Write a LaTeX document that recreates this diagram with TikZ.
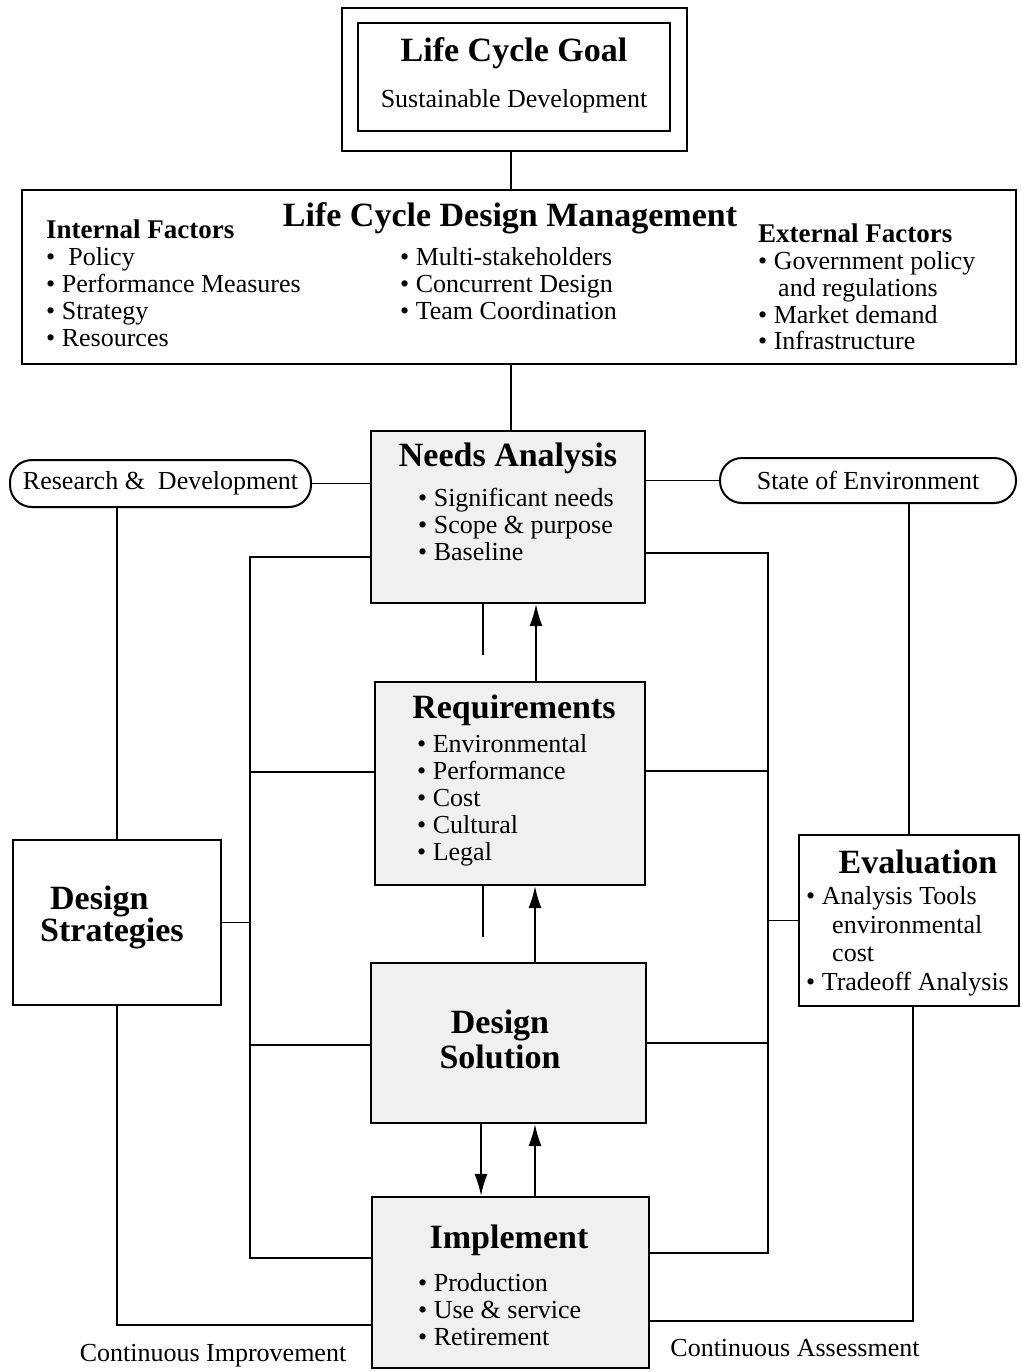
\documentclass[tikz,border=0pt]{standalone}
\usepackage{fontspec}
\setmainfont{Liberation Serif}
\usetikzlibrary{positioning,calc,arrows.meta}

\begin{document}
\begin{tikzpicture}[x=1pt,y=-1pt,
    box/.style={draw, line width=2.2pt, inner sep=0pt},
    shaded/.style={box, fill=black!6},
    pill/.style={draw, line width=2pt, rounded corners=22pt, inner sep=0pt,
        font=\fontsize{26}{27}\selectfont},
    item/.style={anchor=mid west, inner sep=0pt, yshift=-6.5pt, font=\fontsize{26}{27}\selectfont},
    plain/.style={anchor=mid, inner sep=0pt, yshift=-6.5pt, font=\fontsize{26}{27}\selectfont},
    head/.style={anchor=mid, inner sep=0pt, yshift=-9pt, font=\fontsize{34}{36}\selectfont\bfseries},
    subhead/.style={anchor=mid west, inner sep=0pt, yshift=-7pt, font=\fontsize{27}{28}\selectfont\bfseries},
    link/.style={line width=1.8pt},
    arr/.style={link, -{Latex[length=22pt,width=13pt]}}]

    \useasboundingbox (0,0) rectangle (1020,1372);

    % Life cycle goal (double frame)
    \node[box, minimum width=345pt, minimum height=143pt] (goal) at (514.5,79.5) {};
    \node[box, line width=2pt, minimum width=312pt, minimum height=108pt] (goalin) at (514,77) {};
    \node[head] (goalt) at (514,50) {Life Cycle Goal};
    \node[plain] (goals) at (514,99) {Sustainable Development};

    % Design management with factors
    \node[box, minimum width=994pt, minimum height=174pt] (lcdm) at (519,277) {};
    \node[head] (lcdmt) at (510,215) {Life Cycle Design Management};
    \node[subhead] (intt) at (46,229) {Internal Factors};
    \foreach \t [count=\i] in {{\ Policy}, Performance Measures, Strategy, Resources}
        \node[item] (int\i) at (46,230+27*\i) {\textbullet\ \t};
    \foreach \t [count=\i] in {Multi-stakeholders, Concurrent Design, Team Coordination}
        \node[item] (mid\i) at (400,230+27*\i) {\textbullet\ \t};
    \node[subhead] (extt) at (758,233) {External Factors};
    \node[item] (ext1) at (758,261) {\textbullet\ Government policy};
    \node[item] (ext2) at (778,288) {and regulations};
    \node[item] (ext3) at (758,315) {\textbullet\ Market demand};
    \node[item] (ext4) at (758,341) {\textbullet\ Infrastructure};

    % Side inputs
    \node[pill, minimum width=301pt, minimum height=47pt] (rd) at (160.5,483.5) {Research \&\ \ Development};
    \node[pill, minimum width=296pt, minimum height=45pt] (soe) at (868,480.5) {State of Environment};

    % Needs analysis
    \node[shaded, minimum width=274pt, minimum height=172pt] (needs) at (508,517) {};
    \node[head] (needst) at (508,455) {Needs Analysis};
    \foreach \t [count=\i] in {Significant needs, Scope \& purpose, Baseline}
        \node[item] (na\i) at (418,471+27*\i) {\textbullet\ \t};

    % Requirements
    \node[shaded, minimum width=270pt, minimum height=203pt] (req) at (510,783.5) {};
    \node[head] (reqt) at (514,707) {Requirements};
    \foreach \t [count=\i] in {Environmental, Performance, Cost, Cultural, Legal}
        \node[item] (rq\i) at (417,717+27*\i) {\textbullet\ \t};

    % Design solution
    \node[shaded, minimum width=275pt, minimum height=160pt] (ds) at (508.5,1043) {};
    \node[head] (ds1) at (500,1022) {Design};
    \node[head] (ds2) at (500,1057) {Solution};

    % Implement
    \node[shaded, minimum width=277pt, minimum height=171pt] (impl) at (510.5,1282.5) {};
    \node[head] (implt) at (509,1237) {Implement};
    \foreach \t [count=\i] in {Production, Use \& service, Retirement}
        \node[item] (im\i) at (418,1256+27*\i) {\textbullet\ \t};

    % Design strategies
    \node[box, minimum width=208pt, minimum height=165pt] (strat) at (117,922.5) {};
    \node[anchor=north west, inner sep=0pt, align=left,
        font=\fontsize{34}{29}\selectfont\bfseries] (stratt) at (40,886)
        {\hspace*{10pt}Design\\Strategies};

    % Evaluation
    \node[box, minimum width=220pt, minimum height=171pt] (eval) at (909,920.5) {};
    \node[head] (evalt) at (918,862) {Evaluation};
    \node[item] (ev1) at (806,896) {\textbullet\ Analysis Tools};
    \node[item] (ev2) at (832,925) {environmental};
    \node[item] (ev3) at (832,953) {cost};
    \node[item] (ev4) at (806,982) {\textbullet\ Tradeoff Analysis};

    % Feedback labels
    \node[plain] (ci) at (213,1353) {Continuous Improvement};
    \node[plain] (ca) at (795,1348) {Continuous Assessment};

    % Top chain
    \draw[link] (goal.south -| 511,0) -- (lcdm.north -| 511,0);
    \draw[link] (lcdm.south -| 511,0) -- (needs.north -| 511,0);
    \draw[link] (rd.east) -- (rd.east -| needs.west);
    \draw[link] (soe.west) -- (soe.west -| needs.east);
    \draw[link] (strat.north |- rd.south) -- (strat.north);
    \draw[link] (eval.north |- soe.south) -- (eval.north);

    % Inner loops
    \draw[link] (needs.west |- 0,557) -| (250,1258) -- (impl.west |- 0,1258);
    \draw[link] (req.west |- 0,772) -- (250,772);
    \draw[link] (ds.west |- 0,1045) -- (250,1045);
    \draw[link] (strat.east) -- (strat.east -| 250,0);
    \draw[link] (needs.east |- 0,553) -| (768,1253) -- (impl.east |- 0,1253);
    \draw[link] (req.east |- 0,771) -- (768,771);
    \draw[link] (ds.east |- 0,1043) -- (768,1043);
    \draw[link] (eval.west) -- (eval.west -| 768,0);

    % Outer loops
    \draw[link] (strat.south) |- (impl.west |- 0,1325);
    \draw[link] (eval.south -| 913,0) |- (impl.east |- 0,1321);

    % Central flow
    \draw[link] (needs.south -| 483,0) -- (483,655);
    \draw[arr] (req.north -| 536,0) -- (needs.south -| 536,0);
    \draw[link] (req.south -| 483,0) -- (483,937);
    \draw[arr] (ds.north -| 535,0) -- (req.south -| 535,0);
    \draw[arr] (ds.south -| 481,0) -- (impl.north -| 481,0);
    \draw[arr] (impl.north -| 535,0) -- (ds.south -| 535,0);
\end{tikzpicture}
\end{document}
